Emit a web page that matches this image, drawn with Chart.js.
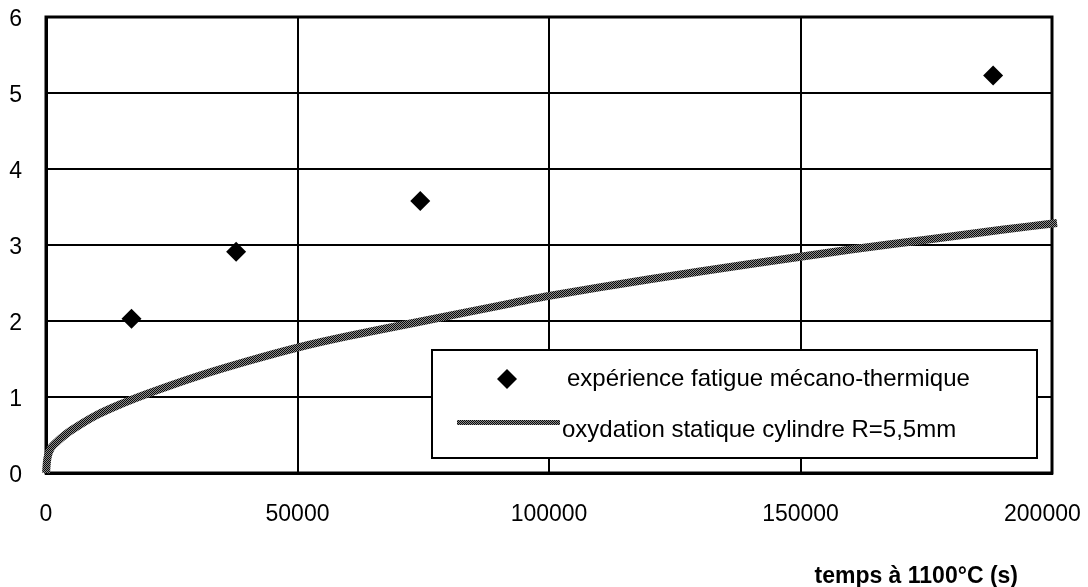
<!DOCTYPE html>
<html>
<head>
<meta charset="utf-8">
<script src="https://cdn.jsdelivr.net/npm/chart.js@4/dist/chart.umd.min.js"></script>
<style>
  html, body { margin: 0; padding: 0; background: #fff; }
  #wrap { width: 1088px; height: 587px; }
</style>
</head>
<body>
<div id="wrap"><canvas id="chart" width="1088" height="587"></canvas></div>
<script>
// experiment points (fatigue mécano-thermique)
const expTime = [17000, 37800, 74400, 188300];
const expVal = [2.03, 2.91, 3.58, 5.23];

// static oxidation curve
const oxTime = [0, 300, 1000, 2500, 5000, 10000, 15000, 20000, 30000, 40000, 50000, 60000, 75000, 90000, 100000, 120000, 140000, 160000, 175000, 190000, 201000];
const oxVal = [0, 0.2, 0.33, 0.43, 0.56, 0.76, 0.91, 1.04, 1.27, 1.47, 1.65, 1.8, 2.0, 2.2, 2.33, 2.55, 2.75, 2.94, 3.07, 3.2, 3.29];

const xTicks = [0, 50000, 100000, 150000, 200000];
const yTicks = [0, 1, 2, 3, 4, 5, 6];

const expLabel = 'expérience fatigue mécano-thermique';
const oxLabel = 'oxydation statique cylindre R=5,5mm';
const xTitle = 'temps à 1100°C (s)';

// dithered grey like the original line
const pc = document.createElement('canvas');
pc.width = 2; pc.height = 2;
const pctx = pc.getContext('2d');
pctx.fillStyle = '#8c8c8c'; pctx.fillRect(0, 0, 2, 2);
pctx.fillStyle = '#0a0a0a'; pctx.fillRect(0, 0, 1, 1); pctx.fillRect(1, 1, 1, 1);
const greyPattern = pctx.createPattern(pc, 'repeat');

const font = 'Liberation Sans, Arial, sans-serif';

const extras = {
  id: 'extras',
  beforeDatasetsDraw(chart) {
    const { ctx, chartArea: a } = chart;
    ctx.save();
    ctx.strokeStyle = '#000';
    ctx.lineWidth = 3;
    ctx.strokeRect(a.left, a.top, a.right - a.left, a.bottom - a.top);
    ctx.restore();
  },
  afterDatasetsDraw(chart) {
    const { ctx, chartArea: a } = chart;
    ctx.save();
    // legend box
    const lx = a.right - 620, ly = a.bottom - 123, lw = 605, lh = 108;
    ctx.fillStyle = '#fff';
    ctx.fillRect(lx, ly, lw, lh);
    ctx.strokeStyle = '#000';
    ctx.lineWidth = 2;
    ctx.strokeRect(lx, ly, lw, lh);

    // diamond
    const dx = lx + 75, dy = ly + 29, r = 10;
    ctx.fillStyle = '#000';
    ctx.beginPath();
    ctx.moveTo(dx, dy - r); ctx.lineTo(dx + r, dy); ctx.lineTo(dx, dy + r); ctx.lineTo(dx - r, dy);
    ctx.closePath(); ctx.fill();

    // line sample
    ctx.fillStyle = greyPattern;
    ctx.fillRect(lx + 25, ly + 70, 103, 5);

    ctx.fillStyle = '#000';
    ctx.font = '24px ' + font;
    ctx.textBaseline = 'middle';
    ctx.textAlign = 'left';
    ctx.fillText(expLabel, lx + 135, dy);
    ctx.fillText(oxLabel, lx + 130, ly + 80);

    // axis title
    ctx.font = 'bold 23px ' + font;
    ctx.textAlign = 'right';
    ctx.fillText(xTitle, a.right - 34, a.bottom + 104);
    ctx.restore();
  }
};

new Chart(document.getElementById('chart'), {
  type: 'scatter',
  data: {
    datasets: [
      {
        label: expLabel,
        data: expTime.map((t, i) => ({ x: t, y: expVal[i] })),
        pointStyle: 'rectRot',
        pointRadius: 10,
        pointHoverRadius: 10,
        backgroundColor: '#000',
        borderColor: '#000',
        borderWidth: 0,
        showLine: false
      },
      {
        label: oxLabel,
        data: oxTime.map((t, i) => ({ x: t, y: oxVal[i] })),
        showLine: true,
        borderColor: greyPattern,
        borderWidth: 8,
        pointRadius: 0,
        tension: 0.3,
        clip: false
      }
    ]
  },
  plugins: [extras],
  options: {
    responsive: false,
    animation: false,
    layout: { padding: { top: 17, right: 36, left: 0, bottom: 0 } },
    plugins: {
      legend: { display: false },
      tooltip: { enabled: false }
    },
    scales: {
      x: {
        type: 'linear',
        min: 0,
        max: 200000,
        afterBuildTicks: s => { s.ticks = xTicks.map(v => ({ value: v })); },
        afterFit: s => { s.height = 114; s.paddingRight = 0; s.paddingLeft = 0; },
        grid: { color: '#000', lineWidth: 2, drawTicks: false },
        border: { color: '#000', width: 3 },
        ticks: {
          color: '#000',
          font: { family: font, size: 23 },
          padding: 28,
          maxRotation: 0,
          autoSkip: false,
          // last label is pushed left so it stays inside the page
          callback: v => v === xTicks[xTicks.length - 1] ? String(v) + '   ' : String(v)
        }
      },
      y: {
        min: 0,
        max: 6,
        afterBuildTicks: s => { s.ticks = yTicks.map(v => ({ value: v })); },
        afterFit: s => { s.width = 46; s.paddingTop = 0; s.paddingBottom = 0; },
        grid: { color: '#000', lineWidth: 2, drawTicks: false },
        border: { color: '#000', width: 3 },
        ticks: { color: '#000', font: { family: font, size: 23 }, padding: 24, labelOffset: 3, callback: v => String(v) }
      }
    }
  }
});
</script>
</body>
</html>
